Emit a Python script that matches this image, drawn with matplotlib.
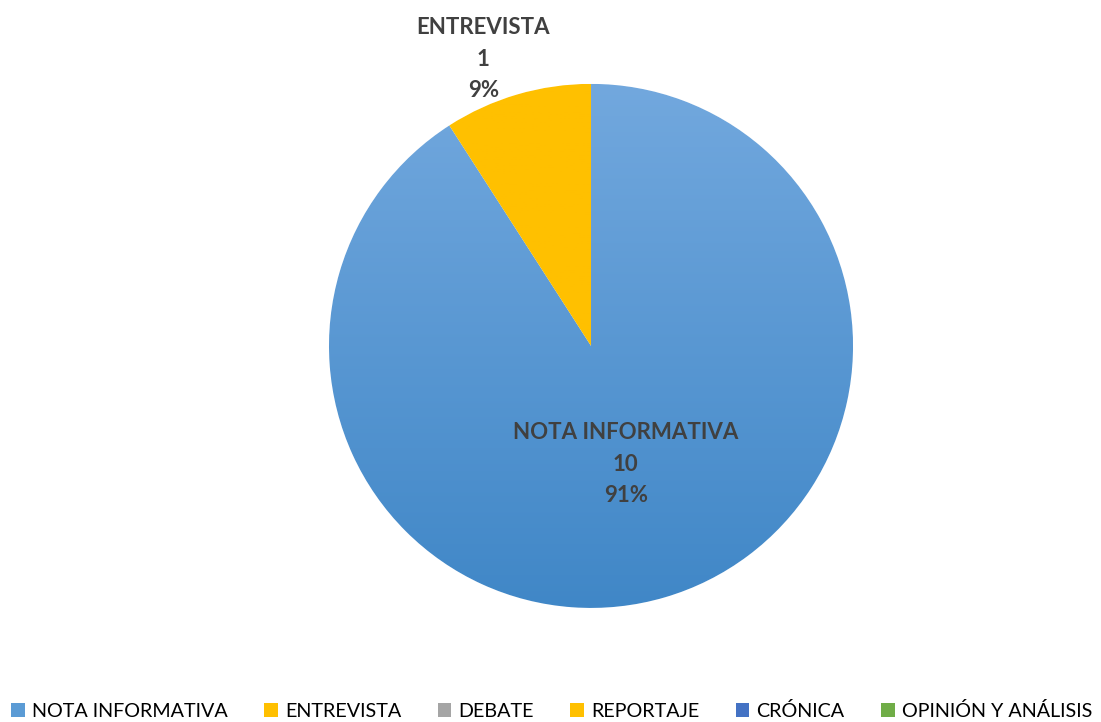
import numpy as np
import matplotlib.pyplot as plt
from matplotlib.colors import LinearSegmentedColormap
from matplotlib.patches import Patch

plt.rcParams['font.family'] = ['Lato', 'DejaVu Sans']

categories = ['NOTA INFORMATIVA', 'ENTREVISTA', 'DEBATE', 'REPORTAJE', 'CRÓNICA', 'OPINIÓN Y ANÁLISIS']
values = [10, 1, 0, 0, 0, 0]
colors = ['#5B9BD5', '#FFC000', '#A5A5A5', '#FFC000', '#4472C4', '#70AD47']
# gradient top/bottom for each wedge (Excel-like shading)
grad_top = ['#72A8DE', '#FFC000', '#B0B0B0', '#FFC83A', '#4F7ECF', '#7CB652']
grad_bot = ['#4087C7', '#FFC000', '#999999', '#F5B800', '#3A66B5', '#64A03E']

fig = plt.figure(figsize=(11.01, 7.22), dpi=100)
ax = fig.add_axes([0.2988, 0.158, 0.476, 0.7258])

wedges, _ = ax.pie(values, colors=colors, startangle=90, counterclock=False,
                   radius=1, wedgeprops=dict(edgecolor='white', linewidth=1))

# gradient fill clipped to each wedge
for w, v, c1, c2 in zip(wedges, values, grad_top, grad_bot):
    if v == 0:
        continue
    cmap = LinearSegmentedColormap.from_list('g', [c2, c1])
    grad = np.linspace(0, 1, 256).reshape(-1, 1)
    im = ax.imshow(grad, cmap=cmap, extent=[-1, 1, -1, 1], origin='lower',
                   aspect='auto', zorder=w.get_zorder() + 0.1)
    im.set_clip_path(w)

ax.set_xlim(-1, 1)
ax.set_ylim(-1, 1)
ax.set_aspect('equal')
ax.axis('off')

total = sum(values)
label_r = [0.47, 1.14]
label_dx = [0.0, -0.09]
cum = 0
for i, v in enumerate(values):
    if v == 0:
        continue
    mid = 90 - (cum + v / 2) / total * 360
    cum += v
    x = label_r[i] * np.cos(np.radians(mid)) + label_dx[i]
    y = label_r[i] * np.sin(np.radians(mid))
    ax.text(x, y, f'{categories[i]}\n{v}\n{round(v / total * 100)}%',
            ha='center', va='center', fontsize=16, fontweight='bold',
            color='#404040', linespacing=1.62, zorder=10, clip_on=False)

handles = [Patch(facecolor=c, edgecolor='none') for c in colors]
fig.legend(handles, categories, loc='lower center', bbox_to_anchor=(0.501, -0.022),
           ncol=6, frameon=False, fontsize=14.2, handlelength=0.7,
           handleheight=0.7, handletextpad=0.35, columnspacing=1.85,
           labelcolor='#000000')

fig.savefig('out.png', dpi=100)
